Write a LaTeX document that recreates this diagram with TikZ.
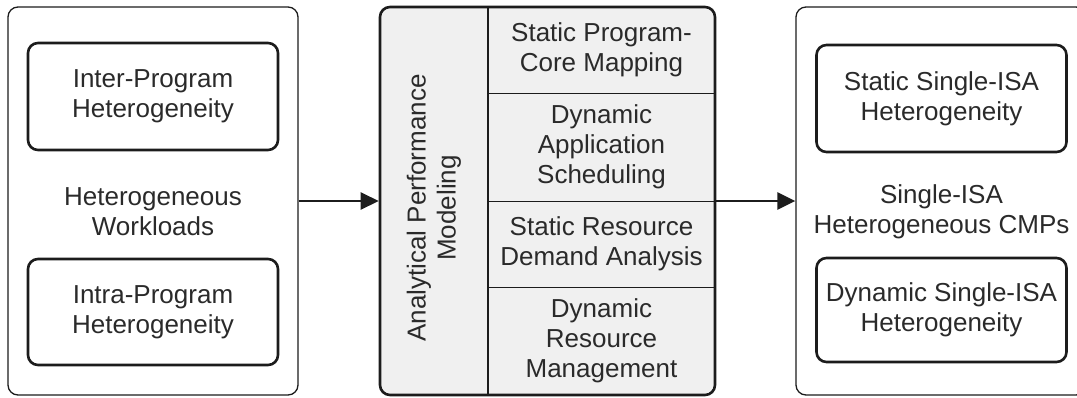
\documentclass[tikz,border=0pt]{standalone}
\usepackage{fontspec}
\setmainfont{Liberation Sans}
\usetikzlibrary{arrows.meta}
\definecolor{ink}{HTML}{1C1C1C}
\definecolor{txt}{HTML}{2A2A2A}
\definecolor{panel}{HTML}{F0F0F0}

\begin{document}
\begin{tikzpicture}[x=1pt,y=-1pt,
  every node/.style={font=\fontsize{26}{30}\selectfont, text=txt, align=center, inner sep=0pt},
  outerbox/.style={draw=ink, line width=1.3pt, rounded corners=10pt,
                   minimum width=290pt, minimum height=388pt},
  innerbox/.style={draw=ink, line width=2.6pt, rounded corners=10pt,
                   minimum width=250pt},
  framebox/.style={draw=ink, fill=panel, line width=2.6pt, rounded corners=10pt},
  divider/.style={draw=ink, line width=1.3pt},
  flow/.style={draw=ink, line width=2.5pt, -{Triangle[length=18pt,width=17pt]}}]

  \clip (0,0) rectangle (1077,397);

  % left column: workloads
  \node[outerbox] (lo) at (153,201) {};
  \node[innerbox, minimum height=107pt] (lt) at (153,96.5) {Inter-Program\\Heterogeneity};
  \node (ll) at (153,212) {Heterogeneous\\Workloads};
  \node[innerbox, minimum height=106pt] (lb) at (153,312) {Intra-Program\\Heterogeneity};

  % middle column: modeling frame with four tasks
  \node[framebox, minimum width=335pt, minimum height=388pt] (mf) at (547.5,201) {};
  \coordinate (vt) at (488,7);
  \coordinate (vb) at (488,395);
  \draw[divider] (vt) -- (vb);
  \node[minimum width=227pt, minimum height=86pt]  (c1) at (601.5,50)  {Static Program-\\Core Mapping};
  \node[minimum width=227pt, minimum height=108pt] (c2) at (601.5,147) {Dynamic\\Application\\Scheduling};
  \node[minimum width=227pt, minimum height=86pt]  (c3) at (601.5,244) {Static Resource\\Demand Analysis};
  \node[minimum width=227pt, minimum height=108pt] (c4) at (601.5,341) {Dynamic\\Resource\\Management};
  \draw[divider] (c1.south west) -- (c1.south east);
  \draw[divider] (c2.south west) -- (c2.south east);
  \draw[divider] (c3.south west) -- (c3.south east);
  \node[rotate=90] (apm) at (434,208) {Analytical Performance\\Modeling};

  % right column: target platforms
  \node[outerbox] (ro) at (941,201) {};
  \node[innerbox, minimum height=107pt] (rt) at (941.5,98.5) {Static Single-ISA\\Heterogeneity};
  \node (rl) at (941.5,212) {Single-ISA\\Heterogeneous CMPs};
  \node[innerbox, minimum height=104pt] (rb) at (941.5,310) {Dynamic Single-ISA\\Heterogeneity};

  % connectors
  \draw[flow] (lo.east) -- (mf.west);
  \draw[flow] (mf.east) -- (ro.west);
\end{tikzpicture}
\end{document}
